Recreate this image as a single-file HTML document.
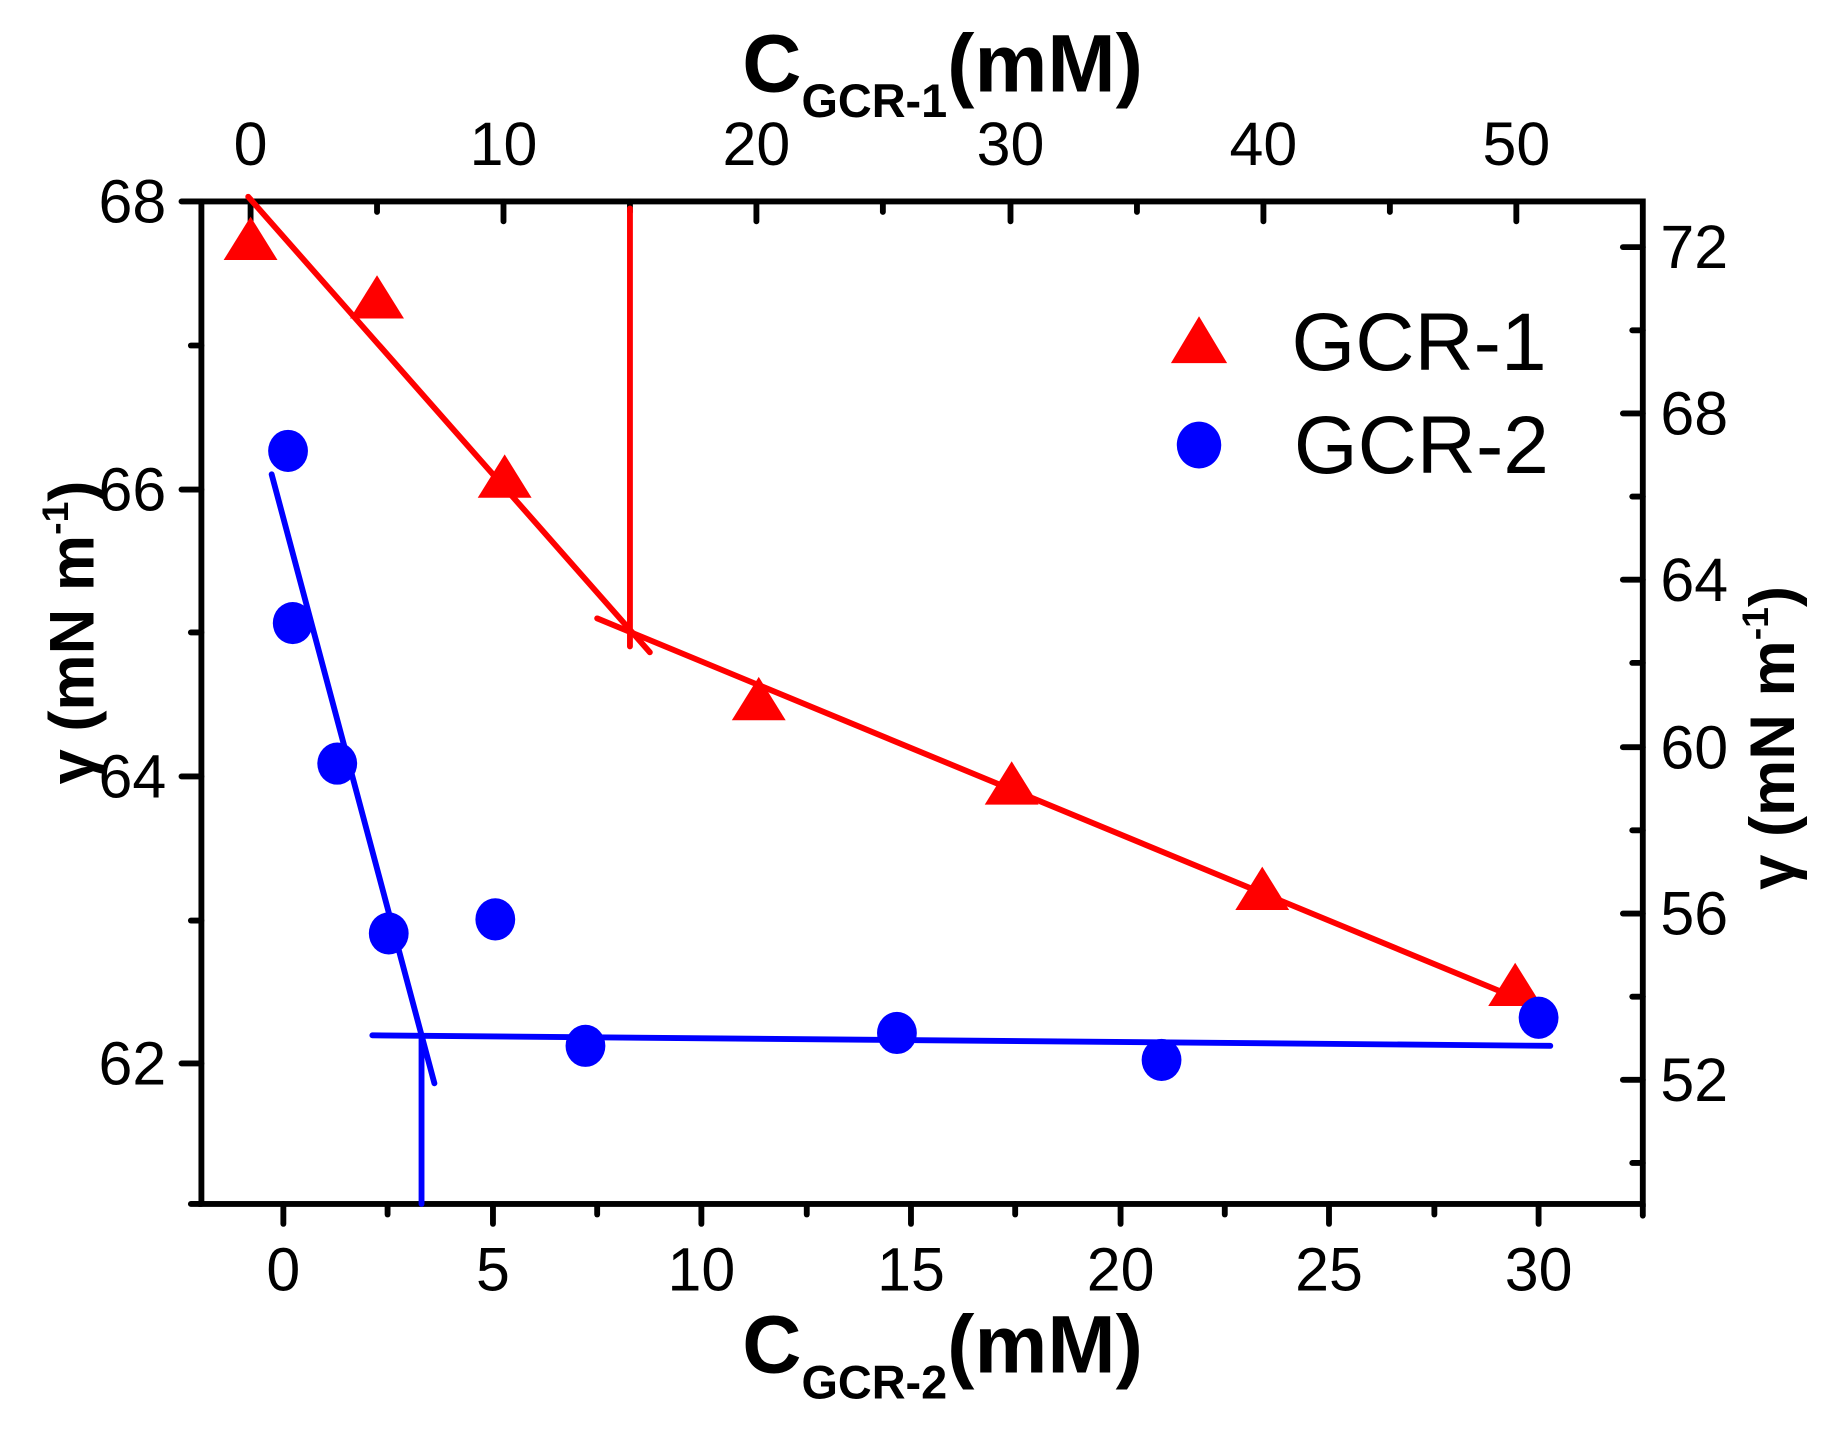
<!DOCTYPE html>
<html><head><meta charset="utf-8"><style>
html,body{margin:0;padding:0;background:#fff;}
svg{display:block;}
text{font-family:"Liberation Sans",Arial,sans-serif;}
</style></head><body>
<svg width="1836" height="1430" viewBox="0 0 1568 1221" preserveAspectRatio="none" xmlns="http://www.w3.org/2000/svg">
<rect width="1568" height="1221" fill="#fff"/>
<g stroke="#000" stroke-width="5" stroke-linecap="round" fill="none">
<rect x="172" y="172" width="1231" height="856" stroke-linecap="butt"/>
<line x1="155" y1="172" x2="172" y2="172"/><line x1="155" y1="418" x2="172" y2="418"/><line x1="155" y1="663" x2="172" y2="663"/><line x1="155" y1="908" x2="172" y2="908"/>
<line x1="163" y1="295" x2="172" y2="295"/><line x1="163" y1="540" x2="172" y2="540"/><line x1="163" y1="786" x2="172" y2="786"/><line x1="163" y1="1028" x2="172" y2="1028"/>
<line x1="242" y1="1028" x2="242" y2="1045"/><line x1="421" y1="1028" x2="421" y2="1045"/><line x1="599" y1="1028" x2="599" y2="1045"/><line x1="778" y1="1028" x2="778" y2="1045"/><line x1="957" y1="1028" x2="957" y2="1045"/><line x1="1135" y1="1028" x2="1135" y2="1045"/><line x1="1314" y1="1028" x2="1314" y2="1045"/>
<line x1="331" y1="1028" x2="331" y2="1037"/><line x1="510" y1="1028" x2="510" y2="1037"/><line x1="689" y1="1028" x2="689" y2="1037"/><line x1="867" y1="1028" x2="867" y2="1037"/><line x1="1046" y1="1028" x2="1046" y2="1037"/><line x1="1225" y1="1028" x2="1225" y2="1037"/>
<line x1="1403" y1="1028" x2="1403" y2="1038"/>
<line x1="214" y1="172" x2="214" y2="189"/><line x1="430" y1="172" x2="430" y2="189"/><line x1="646" y1="172" x2="646" y2="189"/><line x1="863" y1="172" x2="863" y2="189"/><line x1="1079" y1="172" x2="1079" y2="189"/><line x1="1295" y1="172" x2="1295" y2="189"/>
<line x1="322" y1="172" x2="322" y2="181"/><line x1="538" y1="172" x2="538" y2="181"/><line x1="754" y1="172" x2="754" y2="181"/><line x1="971" y1="172" x2="971" y2="181"/><line x1="1187" y1="172" x2="1187" y2="181"/>
<line x1="1386" y1="211" x2="1403" y2="211"/><line x1="1386" y1="353" x2="1403" y2="353"/><line x1="1386" y1="495" x2="1403" y2="495"/><line x1="1386" y1="638" x2="1403" y2="638"/><line x1="1386" y1="780" x2="1403" y2="780"/><line x1="1386" y1="922" x2="1403" y2="922"/>
<line x1="1394" y1="282" x2="1403" y2="282"/><line x1="1394" y1="424" x2="1403" y2="424"/><line x1="1394" y1="566" x2="1403" y2="566"/><line x1="1394" y1="709" x2="1403" y2="709"/><line x1="1394" y1="851" x2="1403" y2="851"/><line x1="1394" y1="993" x2="1403" y2="993"/>
</g>
<g font-size="52" fill="#000">
<g text-anchor="end"><text x="142" y="190">68</text><text x="142" y="436">66</text><text x="142" y="681">64</text><text x="142" y="926">62</text></g>
<g text-anchor="middle">
<text x="242" y="1102">0</text><text x="421" y="1102">5</text><text x="599" y="1102">10</text><text x="778" y="1102">15</text><text x="957" y="1102">20</text><text x="1135" y="1102">25</text><text x="1314" y="1102">30</text>
<text x="214" y="141">0</text><text x="430" y="141">10</text><text x="646" y="141">20</text><text x="863" y="141">30</text><text x="1079" y="141">40</text><text x="1295" y="141">50</text>
</g>
<g text-anchor="start"><text x="1418" y="229">72</text><text x="1418" y="371">68</text><text x="1418" y="513">64</text><text x="1418" y="656">60</text><text x="1418" y="798">56</text><text x="1418" y="940">52</text></g>
</g>
<text x="805" y="78" text-anchor="middle" font-weight="bold" font-size="70">C<tspan font-size="40" dy="22">GCR-1</tspan><tspan dy="-22">(mM)</tspan></text>
<text x="805" y="1172" text-anchor="middle" font-weight="bold" font-size="70">C<tspan font-size="40" dy="22">GCR-2</tspan><tspan dy="-22">(mM)</tspan></text>
<text transform="translate(80,540) rotate(-90)" text-anchor="middle" font-weight="bold" font-size="54">γ (mN m<tspan font-size="32" dy="-22">-1</tspan><tspan dy="22">)</tspan></text>
<text transform="translate(1532,630) rotate(-90)" text-anchor="middle" font-weight="bold" font-size="54">γ (mN m<tspan font-size="32" dy="-22">-1</tspan><tspan dy="22">)</tspan></text>
<g stroke="#f00" stroke-width="5" stroke-linecap="round" fill="none">
<line x1="212" y1="168" x2="555" y2="557"/>
<line x1="510" y1="528" x2="1302" y2="855"/>
<line x1="538" y1="178" x2="538" y2="552"/>
</g>
<g fill="#f00">
<polygon points="214,185 237,222 191,222"/><polygon points="322,235 345,272 299,272"/><polygon points="431,388 454,425 408,425"/><polygon points="648,578 671,615 625,615"/><polygon points="864,650 887,687 841,687"/><polygon points="1078,740 1101,777 1055,777"/><polygon points="1294,822 1317,859 1271,859"/>
<polygon points="1024,270 1048,310 1000,310"/>
</g>
<g stroke="#00f" stroke-width="5" stroke-linecap="round" fill="none">
<line x1="232" y1="405" x2="371" y2="925"/>
<line x1="318" y1="884" x2="1324" y2="893"/>
<line x1="360" y1="884" x2="360" y2="1028"/>
</g>
<g fill="#00f">
<ellipse cx="246" cy="385" rx="17" ry="18"/><ellipse cx="250" cy="532" rx="17" ry="18"/><ellipse cx="288" cy="652" rx="17" ry="18"/><ellipse cx="332" cy="797" rx="17" ry="18"/><ellipse cx="423" cy="785" rx="17" ry="18"/><ellipse cx="500" cy="893" rx="17" ry="18"/><ellipse cx="766" cy="882" rx="17" ry="18"/><ellipse cx="992" cy="905" rx="17" ry="18"/><ellipse cx="1314" cy="869" rx="17" ry="18"/>
<ellipse cx="1024" cy="380" rx="19" ry="20"/>
</g>
<g font-size="70" fill="#000">
<text x="1103" y="316">GCR-1</text>
<text x="1105" y="404">GCR-2</text>
</g>
</svg>
</body></html>
